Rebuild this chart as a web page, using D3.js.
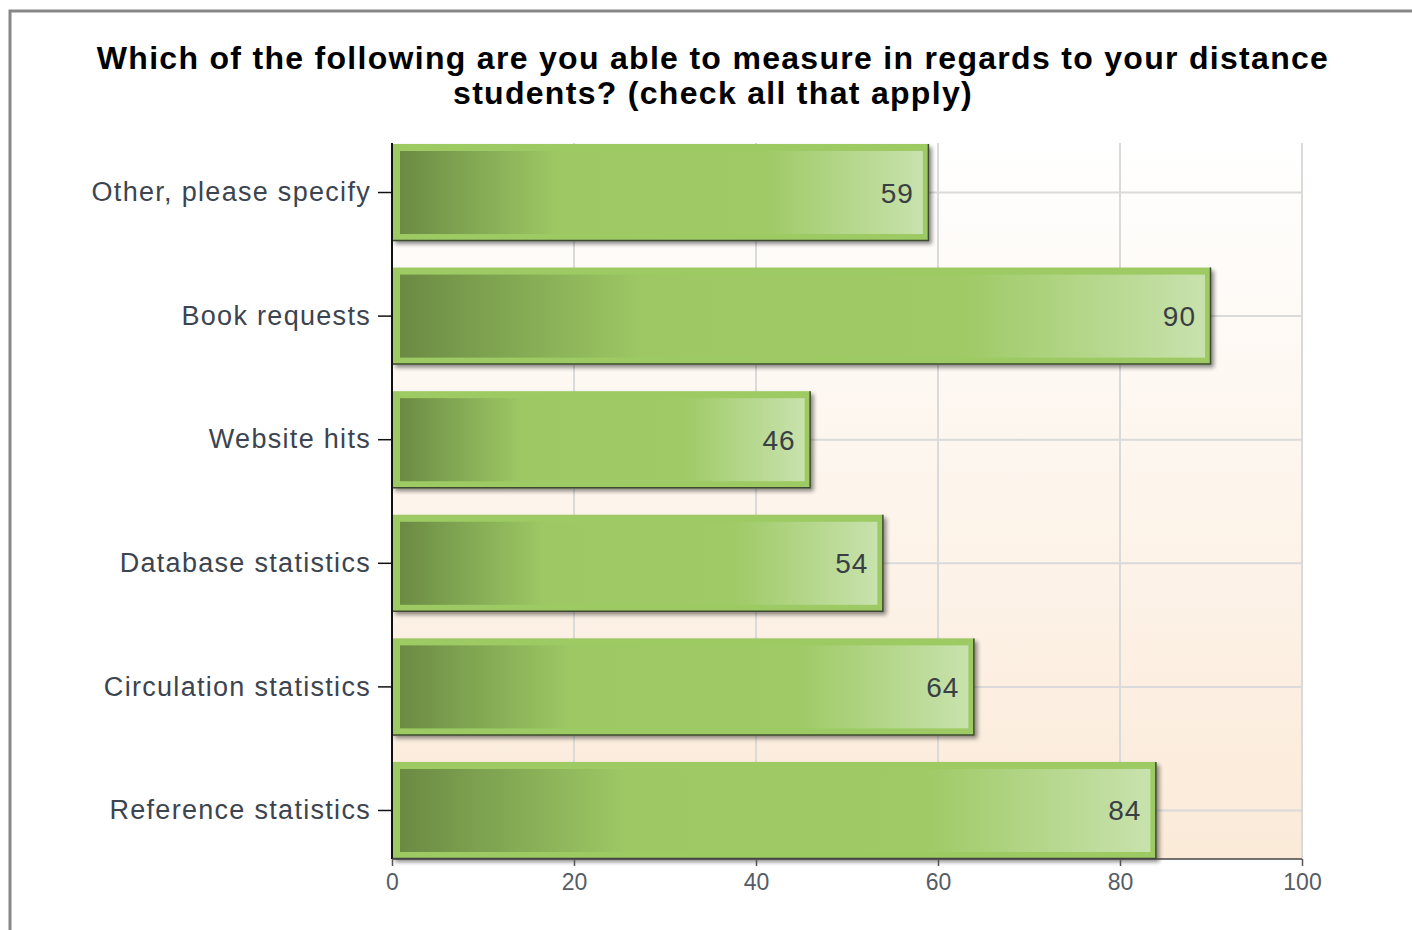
<!DOCTYPE html>
<html>
<head>
<meta charset="utf-8">
<script src="https://cdn.jsdelivr.net/npm/d3@7"></script>
<style>
  html, body { margin: 0; padding: 0; background: #fff; }
  svg { display: block; }
</style>
</head>
<body>
<svg id="chart" width="1412" height="930"></svg>
<script>
// Survey responses, top to bottom as listed
const categories = [
  "Other, please specify",
  "Book requests",
  "Website hits",
  "Database statistics",
  "Circulation statistics",
  "Reference statistics"
];
const counts = [59, 90, 46, 54, 64, 84];
const xTicks = [0, 20, 40, 60, 80, 100];
const titleLines = [
  "Which of the following are you able to measure in regards to your distance",
  "students? (check all that apply)"
];

const svg = d3.select("#chart");
const W = 1412, H = 930;
const plot = { left: 392, right: 1302, top: 143, bottom: 859 };
const FONT = "Liberation Sans, Arial, sans-serif";

const defs = svg.append("defs");

// Plot background: white fading to a light peach at the bottom
const bg = defs.append("linearGradient").attr("id", "bgGrad")
  .attr("x1", 0).attr("y1", 0).attr("x2", 0).attr("y2", 1);
bg.append("stop").attr("offset", "0%").attr("stop-color", "#ffffff");
bg.append("stop").attr("offset", "100%").attr("stop-color", "#fbead8");

// Bar body: dark olive at the base, mid green, pale green towards the tip
const barGrad = defs.append("linearGradient").attr("id", "barGrad")
  .attr("x1", 0).attr("y1", 0).attr("x2", 1).attr("y2", 0);
[["0%", "#6b8a43"], ["10%", "#7ca04f"], ["30%", "#9dc864"], ["70%", "#9fca66"], ["100%", "#c8e2ad"]]
  .forEach(([o, c]) => barGrad.append("stop").attr("offset", o).attr("stop-color", c));

const shadow = defs.append("filter").attr("id", "shadow")
  .attr("x", "-5%").attr("y", "-10%").attr("width", "115%").attr("height", "130%");
shadow.append("feGaussianBlur").attr("stdDeviation", 2);

// Outer frame
svg.append("rect")
  .attr("x", 10).attr("y", 11).attr("width", W + 20).attr("height", H + 20)
  .attr("fill", "#fff").attr("stroke", "#878787").attr("stroke-width", 3);

// Title
svg.append("text")
  .attr("x", 713).attr("y", 58)
  .attr("text-anchor", "middle")
  .attr("font-family", FONT)
  .attr("font-weight", "bold").attr("font-size", 32)
  .attr("letter-spacing", 1.3).attr("fill", "#000")
  .selectAll("tspan").data(titleLines).join("tspan")
  .attr("x", 713).attr("dy", (d, i) => i === 0 ? 11 : 35)
  .text(d => d);

const x = d3.scaleLinear().domain([0, 100]).range([plot.left, plot.right]);
const y = d3.scaleBand().domain(categories)
  .range([plot.top + 1, plot.bottom])
  .paddingInner(0.215).paddingOuter(0);

svg.append("rect")
  .attr("x", plot.left).attr("y", plot.top)
  .attr("width", plot.right - plot.left).attr("height", plot.bottom - plot.top)
  .attr("fill", "url(#bgGrad)");

// Grid lines
const grid = svg.append("g");
grid.selectAll("line.v").data(xTicks.filter(d => d > 0)).join("line")
  .attr("x1", d => x(d)).attr("x2", d => x(d))
  .attr("y1", plot.top).attr("y2", plot.bottom)
  .attr("stroke", "#dadada").attr("stroke-width", 2);
grid.selectAll("line.h").data(categories).join("line")
  .attr("x1", plot.left).attr("x2", plot.right)
  .attr("y1", d => y(d) + y.bandwidth() / 2).attr("y2", d => y(d) + y.bandwidth() / 2)
  .attr("stroke", "#dadada").attr("stroke-width", 2);

// Bars
const rows = categories.map((c, i) => ({ c, v: counts[i] }));
const bars = svg.append("g").selectAll("g").data(rows).join("g");
const bw = y.bandwidth();

bars.append("rect")
  .attr("x", x(0) + 3).attr("y", d => y(d.c) + 3)
  .attr("width", d => x(d.v) - x(0)).attr("height", bw)
  .attr("fill", "#000").attr("opacity", 0.45).attr("filter", "url(#shadow)");
bars.append("rect")
  .attr("x", x(0)).attr("y", d => y(d.c))
  .attr("width", d => x(d.v) - x(0)).attr("height", bw)
  .attr("fill", "#9dca63");
// dark edge along bottom and right
bars.append("path")
  .attr("d", d => `M${x(0)},${y(d.c) + bw - 0.5}H${x(d.v) - 0.5}V${y(d.c)}`)
  .attr("fill", "none").attr("stroke", "#3f4a33").attr("stroke-width", 1.5);
bars.append("rect")
  .attr("x", x(0) + 8).attr("y", d => y(d.c) + 7)
  .attr("width", d => x(d.v) - x(0) - 14).attr("height", bw - 14)
  .attr("fill", "url(#barGrad)");

// Value labels
bars.append("text")
  .attr("x", d => x(d.v) - 15)
  .attr("y", d => y(d.c) + bw / 2 + 10)
  .attr("text-anchor", "end")
  .attr("font-family", FONT)
  .attr("font-size", 28).attr("letter-spacing", 1)
  .attr("fill", "#3a3f45")
  .text(d => d.v);

// Axes
const yAxis = svg.append("g")
  .attr("transform", `translate(${plot.left},0)`)
  .call(d3.axisLeft(y).tickSize(14).tickPadding(7));
yAxis.select(".domain").attr("stroke", "#111").attr("stroke-width", 2)
  .attr("d", `M0,${plot.top}V${plot.bottom}`);
yAxis.selectAll(".tick line").attr("stroke", "#111").attr("stroke-width", 1.5);
yAxis.selectAll(".tick text")
  .attr("font-family", FONT)
  .attr("font-size", 27).attr("letter-spacing", 1.3)
  .attr("fill", "#3c4450");

const xAxis = svg.append("g")
  .attr("transform", `translate(0,${plot.bottom})`)
  .call(d3.axisBottom(x).tickValues(xTicks).tickSize(7).tickPadding(8));
xAxis.select(".domain").attr("stroke", "#444").attr("stroke-width", 1.5)
  .attr("d", `M${plot.left},0H${plot.right}`);
xAxis.selectAll(".tick line").attr("stroke", "#555").attr("stroke-width", 1.5);
xAxis.selectAll(".tick text")
  .attr("font-family", FONT)
  .attr("font-size", 23).attr("fill", "#555c66");
</script>
</body>
</html>
